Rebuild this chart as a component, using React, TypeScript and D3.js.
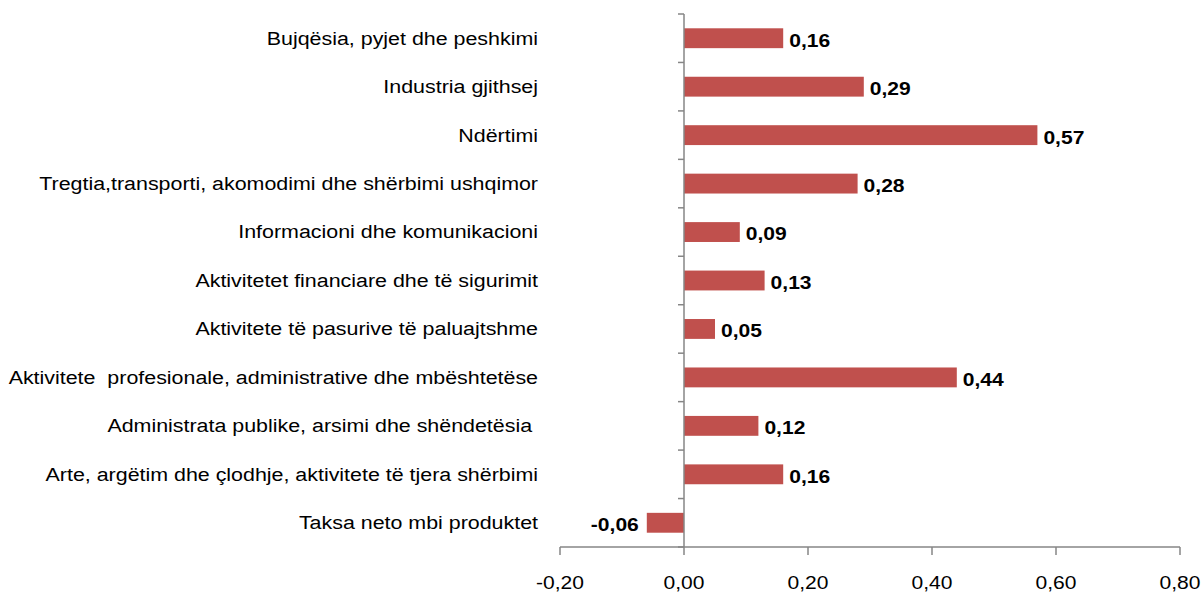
import React from 'react';
import * as d3 from 'd3';

const categories = [
  'Bujqësia, pyjet dhe peshkimi',
  'Industria gjithsej',
  'Ndërtimi',
  'Tregtia,transporti, akomodimi dhe shërbimi ushqimor',
  'Informacioni dhe komunikacioni',
  'Aktivitetet financiare dhe të sigurimit',
  'Aktivitete të pasurive të paluajtshme',
  'Aktivitete  profesionale, administrative dhe mbështetëse',
  'Administrata publike, arsimi dhe shëndetësia ',
  'Arte, argëtim dhe çlodhje, aktivitete të tjera shërbimi',
  'Taksa neto mbi produktet',
];
const values = [0.16, 0.29, 0.57, 0.28, 0.09, 0.13, 0.05, 0.44, 0.12, 0.16, -0.06];
const xTicks = [-0.2, 0, 0.2, 0.4, 0.6, 0.8];

const W = 1202, H = 597;
const plot = { left: 560, right: 1180, top: 14, bottom: 547 };
const font = 'Liberation Sans, Arial, sans-serif';
const axisColor = '#868686';
const barColor = '#C0504D';

const fmt = (v: number) => d3.format('.2f')(v).replace('.', ',').replace('−', '-');

// text in the source is a bit stretched sideways
const Txt = ({ x, y, anchor, bold, sx = 1.17, children }: any) =>
  <g transform={`translate(${x},${y}) scale(${sx},1)`}>
    <text
      textAnchor={anchor}
      dominantBaseline='central'
      fontSize={18}
      fontWeight={bold ? 'bold' : 'normal'}
      fill='#000'
      style={{ whiteSpace: 'pre' }}
    >{children}</text>
  </g>

const App = () => {
  const x = d3.scaleLinear().domain([-0.2, 0.8]).range([plot.left, plot.right]);
  const y = d3.scaleBand<string>().domain(categories).range([plot.top, plot.bottom]).paddingInner(0.59).paddingOuter(0.295);
  const bandStep = (plot.bottom - plot.top) / categories.length;
  const x0 = x(0);

  return <svg width={W} height={H} style={{ position: 'absolute', left: 0, top: 0, fontFamily: font }}>
    <rect width={W} height={H} fill='#fff' />
    {/* bars */}
    {categories.map((c, i) => {
      const v = values[i];
      const bx = Math.min(x(v), x0);
      const bw = Math.abs(x(v) - x0);
      const cy = (y(c) as number) + y.bandwidth() / 2;
      return <g key={c}>
        <rect x={bx} y={y(c)} width={bw} height={y.bandwidth()} fill={barColor} />
        <Txt x={v >= 0 ? x(v) + 6 : x(v) - 8} y={cy + 2} anchor={v >= 0 ? 'start' : 'end'} bold>{fmt(v)}</Txt>
        <Txt x={538} y={cy} anchor='end' sx={1.19}>{c}</Txt>
      </g>
    })}
    {/* y axis */}
    <line x1={x0} x2={x0} y1={plot.top} y2={plot.bottom} stroke={axisColor} strokeWidth={1.5} />
    {d3.range(categories.length + 1).map(i => {
      const ty = plot.top + i * bandStep;
      return <line key={i} x1={x0 - 6} x2={x0} y1={ty} y2={ty} stroke={axisColor} strokeWidth={1.5} />
    })}
    {/* x axis */}
    <line x1={plot.left} x2={plot.right} y1={plot.bottom} y2={plot.bottom} stroke={axisColor} strokeWidth={1.5} />
    {xTicks.map(t => <g key={t}>
      <line x1={x(t)} x2={x(t)} y1={plot.bottom} y2={plot.bottom + 8} stroke={axisColor} strokeWidth={1.5} />
      <Txt x={x(t)} y={583} anchor='middle'>{fmt(t)}</Txt>
    </g>)}
  </svg>
}

export default App;
